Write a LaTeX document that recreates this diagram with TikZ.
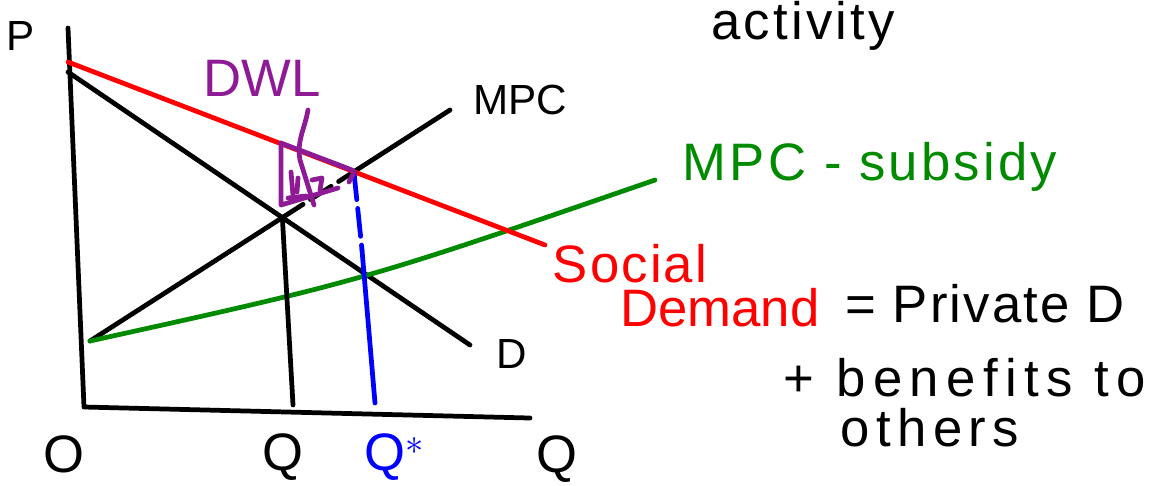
\documentclass[tikz,border=0pt]{standalone}
\usepackage{fontspec}
\setmainfont{Liberation Sans}
\usetikzlibrary{positioning}
\definecolor{PenRed}{HTML}{FF0000}
\definecolor{PenGreen}{HTML}{008A00}
\definecolor{PenBlue}{HTML}{0000FF}
\definecolor{PenPurple}{HTML}{8E1A96}

\begin{document}
\begin{tikzpicture}[x=0.02cm, y=-0.02cm,
  pen/.style={line width=2.7pt, line cap=round, line join=round},
  lbl/.style={inner sep=0pt, font=\fontsize{24}{26}\selectfont},
  big/.style={inner sep=0pt, font=\fontsize{30}{32}\selectfont},
  wide/.style={font=\fontsize{30}{32}\selectfont\addfontfeatures{LetterSpace=#1}}]
  \useasboundingbox (0,0) rectangle (1165,485);
  % axes
  \coordinate (ptop) at (68,28);
  \coordinate (orig) at (84,407);
  \coordinate (qend) at (530,418);
  \draw[pen] (ptop) -- (orig) -- (qend);
  % curve end points
  \coordinate (dA) at (68,72);
  \coordinate (dB) at (470,345);
  \coordinate (mA) at (90,341);
  \coordinate (mB) at (450,110);
  \coordinate (sA) at (68,62);
  \coordinate (sB) at (545,245);
  \coordinate (gA) at (90,341);
  \coordinate (gB) at (655,180);
  \coordinate (eq) at (intersection of dA--dB and mA--mB);
  \coordinate (es) at (intersection of sA--sB and mA--mB);
  \coordinate (qfoot) at (293,405);
  \coordinate (qsmid) at (362,250);
  \coordinate (qsfoot) at (375,403);
  % curves
  \draw[pen] (dA) -- (dB);
  \draw[pen] (mA) -- (eq);
  \draw[pen, dash pattern=on 14pt off 5pt] (eq) -- (es);
  \draw[pen] (es) -- (mB);
  \draw[pen, PenGreen] (gA) .. controls (362,281) .. (gB);
  \draw[pen, PenRed] (sA) -- (sB);
  % quantities
  \draw[pen] (eq) -- (qfoot);
  \draw[pen, PenBlue, dash pattern=on 16pt off 5pt] (es) -- (qsmid);
  \draw[pen, PenBlue] (qsmid) -- (qsfoot);
  % deadweight loss
  \coordinate (wTop) at (281,143);
  \coordinate (wBot) at (281,205);
  \coordinate (wRight) at (352,170);
  \draw[pen, PenPurple] (wTop) -- (wBot) -- (338,188);
  \draw[pen, PenPurple] (wTop) -- (wRight) to[out=-20,in=70] (349,182);
  \draw[pen, PenPurple] (308,110) to[out=-100,in=100] (300,160) -- (314,205);
  \draw[pen, PenPurple] (291,172) -- (293,195);
  \draw[pen, PenPurple] (298,178) -- (297,192);
  \draw[pen, PenPurple] (312,180) -- (322,178) -- (320,190);
  \draw[pen, PenPurple] (288,198) -- (306,196);
  \node[big, PenPurple, anchor=base] (dwl) at (262,96) {DWL};
  % labels
  \node[lbl, anchor=base] (plab) at (21,50) {P};
  \node[big, anchor=base] (olab) at (64,472) {O};
  \node[big, anchor=base] (qlab) at (283,470) {Q};
  \node[big, PenBlue, anchor=base] (qslab) at (395,470) {Q$^{\ast}$};
  \node[big, anchor=base] (qaxis) at (557,472) {Q};
  \node[lbl, anchor=base] (dlab) at (512,368) {D};
  \node[lbl, anchor=base] (mpclab) at (520,114) {MPC};
  \node[big, wide=6, PenGreen, anchor=base] (sublab) at (870,180) {MPC - subsidy};
  \node[lbl, wide=4, PenRed, anchor=base] (soc) at (630,282) {Social};
  \node[big, PenRed, anchor=base] (dem) at (720,326) {Demand};
  \node[big, wide=4, anchor=base] (priv) at (985,322) {= Private D};
  \node[big, wide=14, anchor=base] (ben) at (965,396) {+ benefits to};
  \node[big, wide=12, anchor=base] (oth) at (930,446) {others};
  \node[big, wide=6, anchor=north] (act) at (803,1) {activity};
\end{tikzpicture}
\end{document}
